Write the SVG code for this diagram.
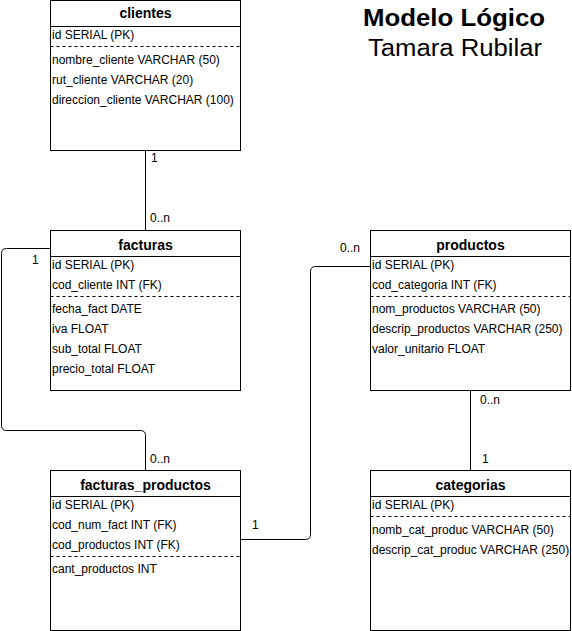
<svg xmlns="http://www.w3.org/2000/svg" width="572" height="631" viewBox="0 0 572 631">
<style>
.box{fill:#fff;stroke:#000;stroke-width:1}
.ln{stroke:#000;stroke-width:1;fill:none}
.dash{stroke:#000;stroke-width:1;stroke-dasharray:3 3;fill:none}
.t{font-family:"Liberation Sans",Arial,sans-serif;font-size:12px;fill:#000}
.h{font-family:"Liberation Sans",Arial,sans-serif;font-size:14px;font-weight:bold;fill:#000;text-anchor:middle}
.lbl{font-family:"Liberation Sans",Arial,sans-serif;font-size:12px;fill:#000}
</style>
<rect width="572" height="631" fill="#fff"/>
<g id="connectors">
<path class="ln" d="M145.5,150.5 V230.5"/>
<path class="ln" d="M50.5,248.5 H6.5 Q1.5,248.5 1.5,253.5 V425.5 Q1.5,430.5 6.5,430.5 H140.5 Q145.5,430.5 145.5,435.5 V470.5"/>
<path class="ln" d="M370.5,266.5 H315.5 Q310.5,266.5 310.5,271.5 V534.5 Q310.5,539.5 305.5,539.5 H240.5"/>
<path class="ln" d="M470.5,390.5 V470.5"/>
<text class="lbl" x="151" y="162">1</text>
<text class="lbl" x="150" y="222">0..n</text>
<text class="lbl" x="32" y="264">1</text>
<text class="lbl" x="150" y="463">0..n</text>
<text class="lbl" x="340" y="252">0..n</text>
<text class="lbl" x="252" y="529">1</text>
<text class="lbl" x="480" y="404">0..n</text>
<text class="lbl" x="482" y="463">1</text>
</g>
<g id="clientes">
<rect class="box" x="50.5" y="0.5" width="190" height="150"/>
<path class="ln" d="M50.5,26.5 H240.5"/>
<path class="dash" d="M50.5,46.5 H240.5"/>
<text class="h" x="145.5" y="18">clientes</text>
<text class="t" x="52" y="39">id SERIAL (PK)</text>
<text class="t" x="52" y="64">nombre_cliente VARCHAR (50)</text>
<text class="t" x="52" y="84">rut_cliente VARCHAR (20)</text>
<text class="t" x="52" y="104">direccion_cliente VARCHAR (100)</text>
</g>
<g id="facturas">
<rect class="box" x="50.5" y="230.5" width="190" height="160"/>
<path class="ln" d="M50.5,256.5 H240.5"/>
<path class="dash" d="M50.5,296.5 H240.5"/>
<text class="h" x="145.5" y="250">facturas</text>
<text class="t" x="52" y="269">id SERIAL (PK)</text>
<text class="t" x="52" y="289">cod_cliente INT (FK)</text>
<text class="t" x="52" y="313">fecha_fact DATE</text>
<text class="t" x="52" y="333">iva FLOAT</text>
<text class="t" x="52" y="353">sub_total FLOAT</text>
<text class="t" x="52" y="373">precio_total FLOAT</text>
</g>
<g id="productos">
<rect class="box" x="370.5" y="230.5" width="200" height="160"/>
<path class="ln" d="M370.5,256.5 H570.5"/>
<path class="dash" d="M370.5,296.5 H570.5"/>
<text class="h" x="470.5" y="250">productos</text>
<text class="t" x="372" y="269">id SERIAL (PK)</text>
<text class="t" x="372" y="289">cod_categoria INT (FK)</text>
<text class="t" x="372" y="313">nom_productos VARCHAR (50)</text>
<text class="t" x="372" y="333">descrip_productos VARCHAR (250)</text>
<text class="t" x="372" y="353">valor_unitario FLOAT</text>
</g>
<g id="facturas_productos">
<rect class="box" x="50.5" y="470.5" width="190" height="160"/>
<path class="ln" d="M50.5,496.5 H240.5"/>
<path class="dash" d="M50.5,556.5 H240.5"/>
<text class="h" x="145.5" y="490">facturas_productos</text>
<text class="t" x="52" y="509">id SERIAL (PK)</text>
<text class="t" x="52" y="529">cod_num_fact INT (FK)</text>
<text class="t" x="52" y="549">cod_productos INT (FK)</text>
<text class="t" x="52" y="573">cant_productos INT</text>
</g>
<g id="categorias">
<rect class="box" x="370.5" y="470.5" width="200" height="160"/>
<path class="ln" d="M370.5,496.5 H570.5"/>
<path class="dash" d="M370.5,516.5 H570.5"/>
<text class="h" x="470.5" y="490">categorias</text>
<text class="t" x="372" y="509">id SERIAL (PK)</text>
<text class="t" x="372" y="534">nomb_cat_produc VARCHAR (50)</text>
<text class="t" x="372" y="554">descrip_cat_produc VARCHAR (250)</text>
</g>
<g id="title">
<text x="363" y="26" font-family="Liberation Sans,Arial,sans-serif" font-size="23" font-weight="bold" textLength="182" lengthAdjust="spacingAndGlyphs">Modelo Lógico</text>
<text x="368" y="56" font-family="Liberation Sans,Arial,sans-serif" font-size="23" textLength="174" lengthAdjust="spacingAndGlyphs">Tamara Rubilar</text>
</g>
</svg>
